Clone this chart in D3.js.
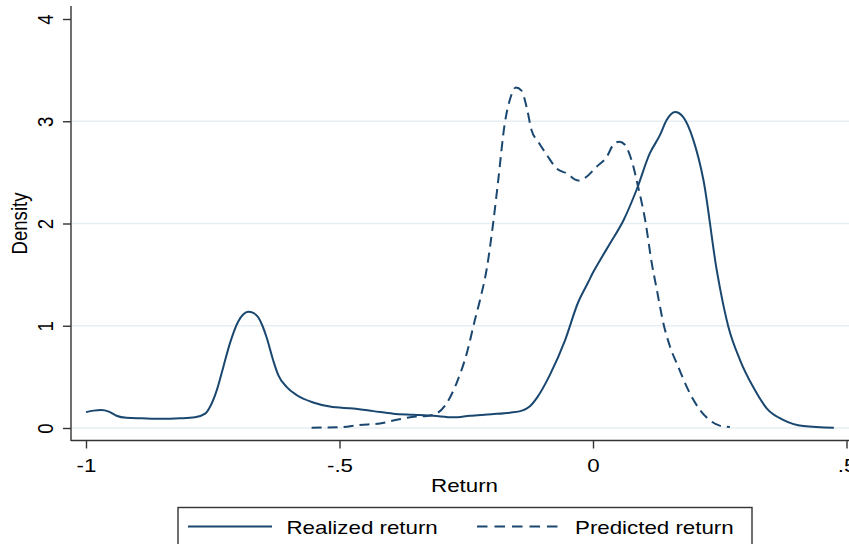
<!DOCTYPE html>
<html>
<head>
<meta charset="utf-8">
<script src="https://cdn.jsdelivr.net/npm/d3@7"></script>
<style>
  html, body { margin: 0; padding: 0; background: #fff; }
  svg text { font-family: "Liberation Sans", Arial, sans-serif; fill: #000; }
</style>
</head>
<body>
<svg id="chart" width="849" height="544"></svg>
<script>
// Kernel density estimates of returns: [return, density]
const realizedReturn = [
  [-1.0,0.155],[-0.985,0.17],[-0.97,0.175],[-0.955,0.16],[-0.94,0.12],[-0.92,0.1],
  [-0.89,0.095],[-0.85,0.09],[-0.815,0.095],[-0.785,0.105],[-0.765,0.14],[-0.755,0.21],
  [-0.742,0.37],[-0.729,0.60],[-0.716,0.83],[-0.70,1.04],[-0.69,1.11],[-0.68,1.137],
  [-0.67,1.125],[-0.66,1.08],[-0.652,1.0],[-0.644,0.89],[-0.631,0.665],[-0.621,0.52],
  [-0.604,0.40],[-0.584,0.32],[-0.552,0.25],[-0.519,0.21],[-0.473,0.19],[-0.433,0.165],
  [-0.394,0.14],[-0.354,0.13],[-0.315,0.12],[-0.276,0.105],[-0.243,0.12],[-0.2,0.135],
  [-0.164,0.15],[-0.14,0.17],[-0.125,0.21],[-0.11,0.3],[-0.085,0.52],[-0.055,0.86],
  [-0.03,1.22],[-0.01,1.42],[0.0,1.52],[0.015,1.65],[0.0335,1.805],[0.06,2.03],
  [0.086,2.33],[0.112,2.685],[0.132,2.864],[0.145,3.01],[0.162,3.09],[0.178,3.04],
  [0.198,2.815],[0.218,2.42],[0.244,1.545],[0.25,1.38],[0.267,0.99],[0.29,0.665],
  [0.316,0.40],[0.343,0.19],[0.375,0.08],[0.415,0.02],[0.475,0.003]
];
const predictedReturn = [
  [-0.555,0.003],[-0.50,0.007],[-0.46,0.03],[-0.42,0.045],[-0.387,0.08],[-0.354,0.11],
  [-0.328,0.117],[-0.308,0.143],[-0.289,0.24],[-0.269,0.44],[-0.249,0.73],[-0.233,1.056],
  [-0.223,1.25],[-0.21,1.545],[-0.197,2.0],[-0.187,2.42],[-0.174,2.98],[-0.164,3.21],
  [-0.152,3.33],[-0.141,3.30],[-0.131,3.14],[-0.121,2.91],[-0.108,2.80],[-0.091,2.67],
  [-0.072,2.54],[-0.052,2.49],[-0.029,2.42],[-0.012,2.46],[0.007,2.555],[0.027,2.65],
  [0.040,2.77],[0.052,2.80],[0.063,2.77],[0.076,2.62],[0.089,2.36],[0.103,2.03],
  [0.116,1.61],[0.126,1.35],[0.139,1.02],[0.152,0.795],[0.168,0.60],[0.188,0.37],
  [0.211,0.176],[0.234,0.062],[0.25,0.023],[0.27,0.01]
];
const xTicks = [-1, -0.5, 0, 0.5];
const xTickLabels = ["-1", "-.5", "0", ".5"];
const yTicks = [0, 1, 2, 3, 4];
const yGrid = [0, 1, 2, 3];
const seriesNames = ["Realized return", "Predicted return"];

const lineColor = "#1a476f";
const svg = d3.select("#chart");
const stretch = 1.2;      // horizontal glyph stretch used for all text
const fontSize = 18.6;

const x = d3.scaleLinear().domain([-1, 0.5]).range([86, 846.5]);
const y = d3.scaleLinear().domain([0, 4]).range([428, 19]);

// gridlines
svg.append("g").selectAll("line").data(yGrid).join("line")
  .attr("x1", 72).attr("x2", 849)
  .attr("y1", d => y(d)).attr("y2", d => y(d))
  .attr("stroke", "#e7eef1").attr("stroke-width", 1.6);

// curves
const line = d3.line().x(d => x(d[0])).y(d => y(d[1])).curve(d3.curveMonotoneX);
svg.append("path").datum(realizedReturn).attr("d", line)
  .attr("fill", "none").attr("stroke", lineColor).attr("stroke-width", 2);
svg.append("path").datum(predictedReturn).attr("d", line)
  .attr("fill", "none").attr("stroke", lineColor).attr("stroke-width", 2)
  .attr("stroke-dasharray", "10,6");

// axes
const xAxis = d3.axisBottom(x).tickValues(xTicks)
  .tickFormat((d, i) => xTickLabels[i]).tickSize(8).tickPadding(0);
const gx = svg.append("g").attr("transform", "translate(0,440.5)").call(xAxis);
gx.select(".domain").attr("d", "M71,0H849").attr("stroke", "#333").attr("stroke-width", 1.4);
gx.selectAll(".tick line").attr("stroke", "#333").attr("stroke-width", 1.4);
gx.selectAll(".tick text").attr("font-size", fontSize).attr("fill", "#000")
  .attr("dy", null).attr("y", 0)
  .attr("transform", `translate(0,31) scale(${stretch},1)`);

const yAxis = d3.axisLeft(y).tickValues(yTicks).tickSize(8).tickFormat(d3.format("d"));
const gy = svg.append("g").attr("transform", "translate(71,0)").call(yAxis);
gy.select(".domain").attr("d", "M0,6V441").attr("stroke", "#333").attr("stroke-width", 1.4);
gy.selectAll(".tick line").attr("stroke", "#333").attr("stroke-width", 1.4);
gy.selectAll(".tick text").attr("font-size", fontSize).attr("fill", "#000")
  .attr("x", 0).attr("y", 0).attr("dy", null)
  .attr("text-anchor", "middle")
  .attr("transform", `translate(-18,0) scale(${stretch},1) rotate(-90)`);

// axis titles
svg.append("text").attr("font-size", fontSize).attr("text-anchor", "middle")
  .attr("transform", `translate(464.5,491.5) scale(${stretch},1)`).text("Return");
svg.append("text").attr("font-size", fontSize).attr("text-anchor", "middle")
  .attr("transform", `translate(26.5,223.5) scale(${stretch},1) rotate(-90)`).text("Density");

// legend
const lg = svg.append("g");
lg.append("rect").attr("x", 178).attr("y", 507.5).attr("width", 574).attr("height", 45)
  .attr("fill", "#fff").attr("stroke", "#333").attr("stroke-width", 1.4);
const legendItems = [
  { name: seriesNames[0], x1: 188, x2: 272, tx: 286.5, dash: null },
  { name: seriesNames[1], x1: 477, x2: 562, tx: 575, dash: "10.5,7" }
];
legendItems.forEach(it => {
  lg.append("line").attr("x1", it.x1).attr("x2", it.x2).attr("y1", 526.5).attr("y2", 526.5)
    .attr("stroke", lineColor).attr("stroke-width", 2)
    .attr("stroke-dasharray", it.dash);
  lg.append("text").attr("font-size", fontSize)
    .attr("transform", `translate(${it.tx},533.5) scale(${stretch},1)`).text(it.name);
});
</script>
</body>
</html>
